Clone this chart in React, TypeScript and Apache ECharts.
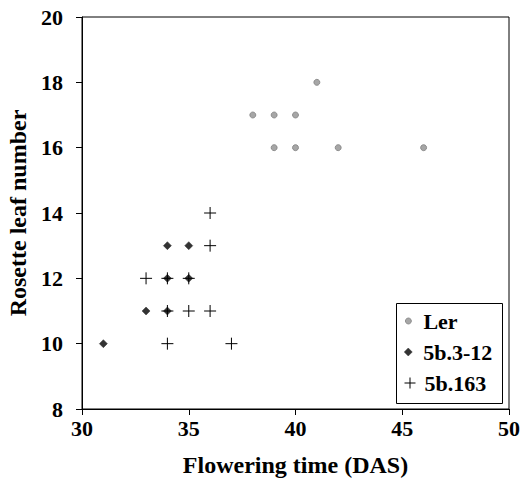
import React, { useEffect, useRef } from "react";
import * as echarts from "echarts";

const lerData: [number, number][] = [
  [38, 17], [39, 17], [40, 17], [41, 18], [39, 16], [40, 16], [42, 16], [46, 16],
];
const b312Data: [number, number][] = [
  [31, 10], [33, 11], [34, 11], [34, 12], [35, 12], [34, 13], [35, 13],
];
const b163Data: [number, number][] = [
  [36, 14], [36, 13], [33, 12], [34, 12], [35, 12], [34, 11], [35, 11], [36, 11], [34, 10], [37, 10],
];
const seriesNames = ["Ler", "5b.3-12", "5b.163"];

const FONT = "'Liberation Serif', 'Times New Roman', serif";
const PLUS = "path://M0,5L10,5M5,0L5,10";
const textStyle = { fontFamily: FONT, fontWeight: "bold", fontSize: 22, color: "#000" };

export default function App() {
  const ref = useRef<HTMLDivElement>(null);
  useEffect(() => {
    if (!ref.current) return;
    const chart = echarts.init(ref.current, undefined, { renderer: "svg" });
    chart.setOption({
      animation: false,
      backgroundColor: "#fff",
      grid: {
        left: 82, top: 17, right: 17, bottom: 85,
        show: true, borderColor: "#000", borderWidth: 1, backgroundColor: "transparent",
        outerBoundsMode: "none", containLabel: false,
      },
      xAxis: {
        type: "value", min: 30, max: 50, interval: 5,
        name: "Flowering time (DAS)", nameLocation: "middle", nameGap: 44,
        nameTextStyle: { ...textStyle, fontSize: 24 },
        axisLine: { lineStyle: { color: "#000", width: 1 } },
        axisTick: { show: true, inside: false, length: 6, lineStyle: { color: "#000" } },
        axisLabel: { ...textStyle, margin: 8 },
        splitLine: { show: false },
      },
      yAxis: {
        type: "value", min: 8, max: 20, interval: 2,
        name: "Rosette leaf number", nameLocation: "middle", nameGap: 52, nameRotate: 90,
        nameTextStyle: { ...textStyle, fontSize: 24 },
        axisLine: { show: true, lineStyle: { color: "#000", width: 1 } },
        axisTick: { show: true, inside: false, length: 6, lineStyle: { color: "#000" } },
        axisLabel: { ...textStyle, margin: 19 },
        splitLine: { show: false },
      },
      legend: [
        {
          left: 405, top: 310, padding: 0, itemWidth: 6, itemHeight: 6,
          textStyle: { ...textStyle, padding: [0, 0, 0, 7] },
          data: [{ name: seriesNames[0], icon: "circle", itemStyle: { color: "#a6a6a6", borderColor: "#7f7f7f", borderWidth: 0.8 } }],
        },
        {
          left: 404, top: 341, padding: 0, itemWidth: 8, itemHeight: 8,
          textStyle: { ...textStyle, padding: [0, 0, 0, 6] },
          data: [{ name: seriesNames[1], icon: "diamond", itemStyle: { color: "#333", borderColor: "#333", borderWidth: 0.5 } }],
        },
        {
          left: 402, top: 372, padding: 0, itemWidth: 11, itemHeight: 11,
          textStyle: { ...textStyle, padding: [0, 0, 0, 4] },
          data: [{ name: seriesNames[2], icon: PLUS, itemStyle: { color: "none", borderColor: "#000", borderWidth: 1 } }],
        },
      ],
      graphic: [
        {
          type: "rect", left: 394, top: 301, silent: true,
          shape: { width: 106, height: 100 },
          style: { fill: "none", stroke: "#000", lineWidth: 1 },
        },
      ],
      series: [
        {
          name: seriesNames[0], type: "scatter", data: lerData, symbol: "circle", symbolSize: 6,
          itemStyle: { color: "#a6a6a6", borderColor: "#7f7f7f", borderWidth: 0.8, opacity: 1 },
        },
        {
          name: seriesNames[1], type: "scatter", data: b312Data, symbol: "diamond", symbolSize: 8,
          itemStyle: { color: "#333333", borderColor: "#333333", borderWidth: 0.5, opacity: 1 },
        },
        {
          name: seriesNames[2], type: "scatter", data: b163Data, symbol: PLUS, symbolSize: 12,
          itemStyle: { color: "none", borderColor: "#000", borderWidth: 1, opacity: 1 },
        },
      ],
    });
    return () => chart.dispose();
  }, []);
  return <div ref={ref} style={{ width: 526, height: 494, position: "absolute", left: 0, top: 0 }} />;
}
